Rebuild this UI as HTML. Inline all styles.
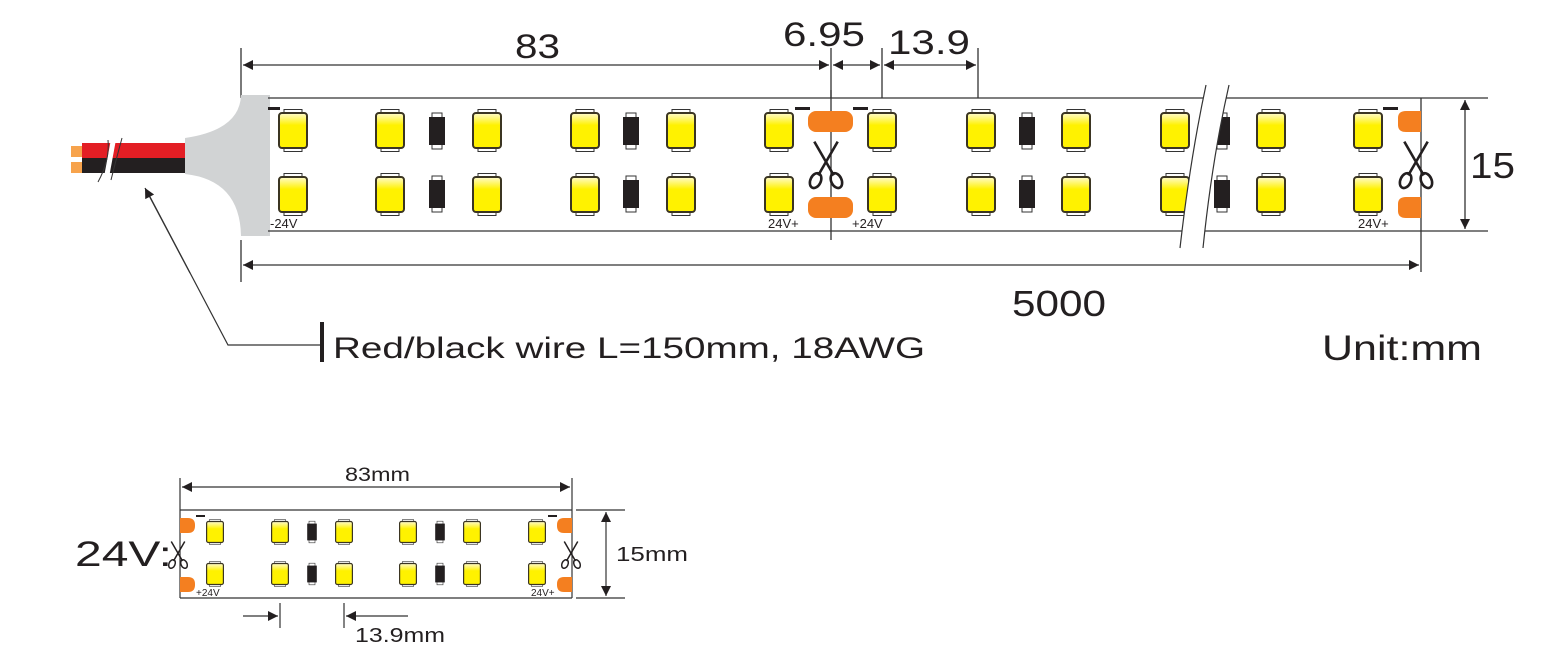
<!DOCTYPE html>
<html><head><meta charset="utf-8"><style>
html,body{margin:0;padding:0;background:#fff}
svg{display:block}
text{font-family:"Liberation Sans",Arial,sans-serif;fill:#231f20}
</style></head><body>
<svg width="1548" height="662" viewBox="0 0 1548 662" xmlns="http://www.w3.org/2000/svg">
<defs>
<linearGradient id="yg" x1="0" y1="0" x2="0" y2="1"><stop offset="0" stop-color="#fffbd0"/><stop offset="0.35" stop-color="#fff200"/><stop offset="1" stop-color="#fff200"/></linearGradient>
<g id="led">
<rect x="-9" y="-21" width="18" height="4" fill="#fff" stroke="#333" stroke-width="1"/>
<rect x="-9" y="17" width="18" height="4" fill="#fff" stroke="#333" stroke-width="1"/>
<rect x="-14" y="-17.5" width="28" height="35" rx="3" fill="url(#yg)" stroke="#3b3522" stroke-width="2"/>
</g>
<g id="res">
<rect x="-5" y="-18" width="10" height="5" fill="#fff" stroke="#333" stroke-width="1"/>
<rect x="-5" y="13" width="10" height="5" fill="#fff" stroke="#333" stroke-width="1"/>
<rect x="-8" y="-14" width="16" height="28" fill="#231f20"/>
</g>
<g id="sc" fill="none" stroke="#231f20" stroke-width="2">
<path d="M-9,-18 L6,8 M9,-18 L-6,8"/>
<ellipse cx="-8" cy="12" rx="4" ry="6" transform="rotate(25 -8 12)"/>
<ellipse cx="8" cy="12" rx="4" ry="6" transform="rotate(-25 8 12)"/>
</g>
<marker id="ah" viewBox="0 0 10 10" refX="10" refY="5" markerWidth="14" markerHeight="10" markerUnits="userSpaceOnUse" orient="auto"><path d="M0,0 L10,5 L0,10 z" fill="#231f20"/></marker>
</defs>

<g stroke="#333" stroke-width="1.3" fill="none">
<line x1="241" y1="48" x2="241" y2="98"/>
<line x1="831" y1="48" x2="831" y2="98"/>
<line x1="882" y1="48" x2="882" y2="98"/>
<line x1="978" y1="48" x2="978" y2="98"/>
<line x1="535" y1="65" x2="243" y2="65" marker-end="url(#ah)"/>
<line x1="535" y1="65" x2="829" y2="65" marker-end="url(#ah)"/>
<line x1="856" y1="65" x2="833" y2="65" marker-end="url(#ah)"/>
<line x1="856" y1="65" x2="880" y2="65" marker-end="url(#ah)"/>
<line x1="930" y1="65" x2="884" y2="65" marker-end="url(#ah)"/>
<line x1="930" y1="65" x2="976" y2="65" marker-end="url(#ah)"/>
</g>
<text x="515" y="58" font-size="34" textLength="45" lengthAdjust="spacingAndGlyphs">83</text>
<text x="783" y="46" font-size="34" textLength="82" lengthAdjust="spacingAndGlyphs">6.95</text>
<text x="888" y="54" font-size="34" textLength="82" lengthAdjust="spacingAndGlyphs">13.9</text>

<rect x="71" y="146" width="12" height="11" fill="#f7a34c"/>
<rect x="71" y="162" width="12" height="11" fill="#f7a34c"/>
<rect x="82" y="143" width="105" height="15" fill="#e31e24"/>
<rect x="82" y="158" width="105" height="15" fill="#231f20"/>
<path d="M113,142 L106,180" stroke="#fff" stroke-width="5"/>
<path d="M108,140 Q110,160 98,182 M122,138 Q116,160 111,180" stroke="#333" stroke-width="1" fill="none"/>
<path d="M185,138 Q240,130 241,95 L270,95 L270,236 L241,236 Q240,180 185,174 Z" fill="#d1d3d4"/>

<g stroke="#333" stroke-width="1.3">
<line x1="268" y1="98" x2="1421" y2="98"/>
<line x1="268" y1="231" x2="1421" y2="231"/>
<line x1="831" y1="90" x2="831" y2="240"/>
<line x1="1421" y1="98" x2="1421" y2="272"/>
<line x1="241" y1="240" x2="241" y2="282"/>
<line x1="1421" y1="98" x2="1488" y2="98"/>
<line x1="1421" y1="231" x2="1488" y2="231"/>
</g>
<g fill="#f47f20">
<rect x="808" y="111" width="45" height="21" rx="8"/>
<rect x="808" y="197" width="45" height="21" rx="8"/>
<path d="M1421,111 L1406,111 Q1398,111 1398,118 L1398,125 Q1398,132 1406,132 L1421,132 Z"/>
<path d="M1421,197 L1406,197 Q1398,197 1398,204 L1398,211 Q1398,218 1406,218 L1421,218 Z"/>
</g>
<g fill="#231f20">
<rect x="268" y="107" width="12" height="3"/>
<rect x="795" y="107" width="15" height="3"/>
<rect x="853" y="107" width="15" height="3"/>
<rect x="1383" y="107" width="15" height="3"/>
</g>
<g>
<use href="#led" x="293" y="130.5"/><use href="#led" x="293" y="194.5"/>
<use href="#led" x="390" y="130.5"/><use href="#led" x="390" y="194.5"/>
<use href="#res" x="437" y="131"/><use href="#res" x="437" y="194"/>
<use href="#led" x="487" y="130.5"/><use href="#led" x="487" y="194.5"/>
<use href="#led" x="585" y="130.5"/><use href="#led" x="585" y="194.5"/>
<use href="#res" x="631" y="131"/><use href="#res" x="631" y="194"/>
<use href="#led" x="681" y="130.5"/><use href="#led" x="681" y="194.5"/>
<use href="#led" x="779" y="130.5"/><use href="#led" x="779" y="194.5"/>
<use href="#led" x="882" y="130.5"/><use href="#led" x="882" y="194.5"/>
<use href="#led" x="981" y="130.5"/><use href="#led" x="981" y="194.5"/>
<use href="#res" x="1027" y="131"/><use href="#res" x="1027" y="194"/>
<use href="#led" x="1076" y="130.5"/><use href="#led" x="1076" y="194.5"/>
<use href="#led" x="1175" y="130.5"/><use href="#led" x="1175" y="194.5"/>
<use href="#res" x="1222" y="131"/><use href="#res" x="1222" y="194"/>
<use href="#led" x="1271" y="130.5"/><use href="#led" x="1271" y="194.5"/>
<use href="#led" x="1368" y="130.5"/><use href="#led" x="1368" y="194.5"/>
</g>
<path d="M1206,85 Q1190,160 1180,248 L1203,248 Q1212,160 1229,85 Z" fill="#fff"/>
<path d="M1206,85 Q1190,160 1180,248 M1229,85 Q1212,160 1203,248" stroke="#333" stroke-width="1.2" fill="none"/>
<g transform="translate(826,165) scale(1.3)"><use href="#sc"/></g>
<g transform="translate(1416,165) scale(1.3)"><use href="#sc"/></g>
<text x="270" y="228" font-size="13">-24V</text>
<text x="768" y="228" font-size="13">24V+</text>
<text x="852" y="228" font-size="13">+24V</text>
<text x="1358" y="228" font-size="13">24V+</text>

<line x1="1465" y1="165" x2="1465" y2="100" stroke="#333" stroke-width="1.3" marker-end="url(#ah)"/>
<line x1="1465" y1="165" x2="1465" y2="229" stroke="#333" stroke-width="1.3" marker-end="url(#ah)"/>
<text x="1470" y="178" font-size="36" textLength="45" lengthAdjust="spacingAndGlyphs">15</text>

<line x1="830" y1="265" x2="243" y2="265" stroke="#333" stroke-width="1.3" marker-end="url(#ah)"/>
<line x1="830" y1="265" x2="1419" y2="265" stroke="#333" stroke-width="1.3" marker-end="url(#ah)"/>
<text x="1012" y="316" font-size="36" textLength="94" lengthAdjust="spacingAndGlyphs">5000</text>

<polyline points="322,345 228,345 148,193" fill="none" stroke="#333" stroke-width="1.2"/>
<line x1="190" y1="273" x2="145" y2="188" stroke="#333" stroke-width="1.2" marker-end="url(#ah)"/>
<rect x="320" y="322" width="4" height="40" fill="#231f20"/>
<text x="333" y="358" font-size="30" textLength="592" lengthAdjust="spacingAndGlyphs">Red/black wire L=150mm, 18AWG</text>
<text x="1322" y="360" font-size="35" textLength="160" lengthAdjust="spacingAndGlyphs">Unit:mm</text>

<g stroke="#333" stroke-width="1.2">
<line x1="180" y1="510" x2="572" y2="510"/>
<line x1="180" y1="598" x2="572" y2="598"/>
<line x1="180" y1="478" x2="180" y2="598"/>
<line x1="572" y1="478" x2="572" y2="598"/>
<line x1="576" y1="510" x2="625" y2="510"/>
<line x1="576" y1="598" x2="625" y2="598"/>
<line x1="376" y1="487" x2="182" y2="487" marker-end="url(#ah)"/>
<line x1="376" y1="487" x2="570" y2="487" marker-end="url(#ah)"/>
<line x1="606" y1="554" x2="606" y2="512" marker-end="url(#ah)"/>
<line x1="606" y1="554" x2="606" y2="596" marker-end="url(#ah)"/>
<line x1="280" y1="603" x2="280" y2="628"/>
<line x1="344" y1="603" x2="344" y2="628"/>
<line x1="243" y1="616" x2="278" y2="616" marker-end="url(#ah)"/>
<line x1="408" y1="616" x2="346" y2="616" marker-end="url(#ah)"/>
</g>
<g fill="#f47f20">
<path d="M180,518 L188,518 Q195,518 195,525 L195,526 Q195,533 188,533 L180,533 Z"/>
<path d="M180,577 L188,577 Q195,577 195,584 L195,585 Q195,592 188,592 L180,592 Z"/>
<path d="M572,518 L564,518 Q557,518 557,525 L557,526 Q557,533 564,533 L572,533 Z"/>
<path d="M572,577 L564,577 Q557,577 557,584 L557,585 Q557,592 564,592 L572,592 Z"/>
</g>
<rect x="196" y="515" width="9" height="2" fill="#231f20"/>
<rect x="548" y="515" width="9" height="2" fill="#231f20"/>
<g>
<g transform="translate(215,532) scale(0.6)"><use href="#led"/></g><g transform="translate(215,574) scale(0.6)"><use href="#led"/></g>
<g transform="translate(280,532) scale(0.6)"><use href="#led"/></g><g transform="translate(280,574) scale(0.6)"><use href="#led"/></g>
<g transform="translate(312,532) scale(0.6)"><use href="#res"/></g><g transform="translate(312,574) scale(0.6)"><use href="#res"/></g>
<g transform="translate(344,532) scale(0.6)"><use href="#led"/></g><g transform="translate(344,574) scale(0.6)"><use href="#led"/></g>
<g transform="translate(408,532) scale(0.6)"><use href="#led"/></g><g transform="translate(408,574) scale(0.6)"><use href="#led"/></g>
<g transform="translate(440,532) scale(0.6)"><use href="#res"/></g><g transform="translate(440,574) scale(0.6)"><use href="#res"/></g>
<g transform="translate(472,532) scale(0.6)"><use href="#led"/></g><g transform="translate(472,574) scale(0.6)"><use href="#led"/></g>
<g transform="translate(537,532) scale(0.6)"><use href="#led"/></g><g transform="translate(537,574) scale(0.6)"><use href="#led"/></g>
<g transform="translate(178,555) scale(0.75)"><use href="#sc"/></g>
<g transform="translate(571,555) scale(0.75)"><use href="#sc"/></g>
</g>
<text x="196" y="596" font-size="10">+24V</text>
<text x="531" y="596" font-size="10">24V+</text>
<text x="345" y="481" font-size="19" textLength="65" lengthAdjust="spacingAndGlyphs">83mm</text>
<text x="616" y="561" font-size="20" textLength="72" lengthAdjust="spacingAndGlyphs">15mm</text>
<text x="75" y="566" font-size="35" textLength="97" lengthAdjust="spacingAndGlyphs">24V:</text>
<text x="355" y="642" font-size="20" textLength="90" lengthAdjust="spacingAndGlyphs">13.9mm</text>
</svg>
</body></html>
